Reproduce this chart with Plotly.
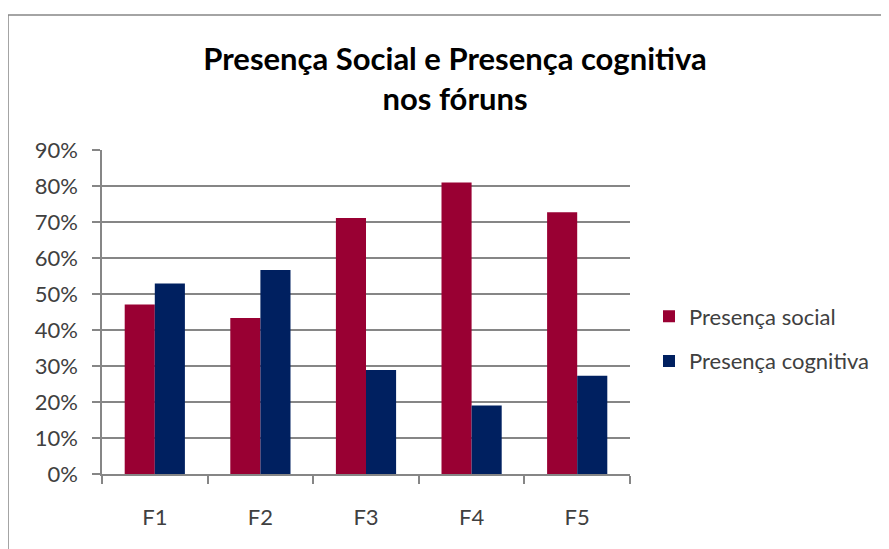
import plotly.graph_objects as go

categories = ["F1", "F2", "F3", "F4", "F5"]
social = [0.471, 0.433, 0.711, 0.810, 0.727]
cognitiva = [0.529, 0.567, 0.289, 0.190, 0.273]
series_names = ["Presença social", "Presença cognitiva"]
tick_vals = [0, 0.1, 0.2, 0.3, 0.4, 0.5, 0.6, 0.7, 0.8, 0.9]
tick_text = ["0%", "10%", "20%", "30%", "40%", "50%", "60%", "70%", "80%", "90%"]

# page body adds an 8px offset; figure coordinates below are page px - 8
OFF = 8
W, H = 889 - OFF, 549 - OFF
L, T = 102 - OFF, 150 - OFF
R = W - (630 - OFF)
B = H - (474 - OFF)
pw, ph = W - L - R, H - T - B

def px_x(x):
    return (x - OFF - L) / pw

def px_y(y):
    return (H - B - (y - OFF)) / ph

FONT = "Lato"

fig = go.Figure()
fig.add_trace(go.Bar(x=categories, y=social, name=series_names[0],
                     marker=dict(color="#990033", line=dict(width=0)),
                     legendgroup="a"))
fig.add_trace(go.Bar(x=categories, y=cognitiva, name=series_names[1],
                     marker=dict(color="#002060", line=dict(width=0)),
                     legendgroup="b"))

fig.update_layout(
    width=W, height=H,
    margin=dict(l=L, r=R, t=T, b=B, autoexpand=False),
    paper_bgcolor="white", plot_bgcolor="white",
    barmode="group", bargap=0.43, bargroupgap=0,
    title=dict(text="<b>Presença Social e Presença cognitiva<br>nos fóruns</b>",
               x=px_x(455), xref="paper", xanchor="center",
               y=1 - (70 - OFF) / H, yanchor="middle",
               font=dict(family=FONT, size=31, color="black")),
    font=dict(family=FONT, color="#404040"),
    legend=dict(x=px_x(649), y=px_y(339), xanchor="left", yanchor="middle",
                font=dict(family=FONT, size=22, color="#404040"),
                tracegroupgap=13, traceorder="grouped", itemwidth=30,
                bgcolor="rgba(0,0,0,0)"),
    xaxis=dict(type="category", showline=True, linecolor="#868686", linewidth=1.5,
               ticks="outside", ticklen=8, tickcolor="#868686", tickwidth=1.5,
               tickson="boundaries", showgrid=False,
               tickfont=dict(family=FONT, size=22, color="#404040"),
               ticklabelstandoff=23),
    yaxis=dict(range=[0, 0.9], tickvals=tick_vals, ticktext=tick_text,
               showline=True, linecolor="#868686", linewidth=1.5,
               ticks="outside", ticklen=8, tickcolor="#868686", tickwidth=1.5,
               showgrid=True, gridcolor="#868686", gridwidth=1.5, zeroline=False,
               tickfont=dict(family=FONT, size=22, color="#404040"),
               ticklabelstandoff=10),
    shapes=[dict(type="rect", xref="paper", yref="paper",
                 x0=px_x(8), x1=px_x(900), y0=px_y(570), y1=px_y(15),
                 line=dict(color="#868686", width=1.5), fillcolor="rgba(0,0,0,0)",
                 layer="below")],
)

fig.write_html("out.html")
